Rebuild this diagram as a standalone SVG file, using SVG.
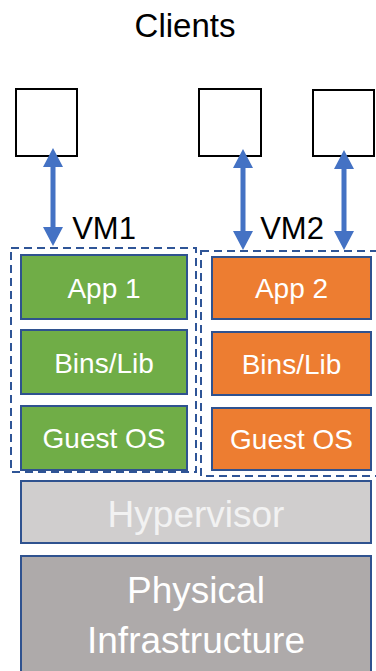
<svg xmlns="http://www.w3.org/2000/svg" width="376" height="671" viewBox="0 0 376 671">
<style>
text{font-family:"Liberation Sans",Arial,sans-serif;text-anchor:middle}
.client{fill:#fff;stroke:#000;stroke-width:2}
.vm{fill:none;stroke:#2F5597;stroke-width:2;stroke-dasharray:8 5}
.layer{stroke:#2F528F;stroke-width:2}
.green{fill:#70AD47}
.orange{fill:#ED7D31}
.lbl{fill:#fff;font-size:28px}
.big{fill:#fff;font-size:37px}
.arrow{fill:#4472C4}
.dark{fill:#000}
</style>
<text class="dark" x="185" y="37" font-size="33">Clients</text>
<g id="client1"><rect class="client" x="16" y="89" width="61" height="67"/></g>
<g id="client2"><rect class="client" x="199" y="89" width="62" height="67"/></g>
<g id="client3"><rect class="client" x="313" y="90" width="61" height="66"/></g>
<g id="connectors">
<path class="arrow" d="M53 148 L63 167 L55.5 167 L55.5 227 L63 227 L53 246 L43 227 L50.5 227 L50.5 167 L43 167 Z"/>
<path class="arrow" d="M243 149 L253 168 L245.5 168 L245.5 231 L253 231 L243 250 L233 231 L240.5 231 L240.5 168 L233 168 Z"/>
<path class="arrow" d="M344 150 L354 169 L346.5 169 L346.5 231 L354 231 L344 250 L334 231 L341.5 231 L341.5 169 L334 169 Z"/>
</g>
<g id="vm1">
<rect class="vm" x="11" y="248" width="185" height="224"/>
<text class="dark" x="104" y="239" font-size="31">VM1</text>
</g>
<g id="vm2">
<rect class="vm" x="201" y="251" width="180" height="225"/>
<text class="dark" x="292" y="239" font-size="31">VM2</text>
</g>
<g id="app1"><rect class="layer green" x="21" y="255" width="166" height="64"/><text class="lbl" x="104" y="298">App 1</text></g>
<g id="bins1"><rect class="layer green" x="21" y="330" width="166" height="64"/><text class="lbl" x="104" y="373">Bins/Lib</text></g>
<g id="guest1"><rect class="layer green" x="21" y="406" width="166" height="64"/><text class="lbl" x="104" y="448">Guest OS</text></g>
<g id="app2"><rect class="layer orange" x="212" y="257" width="159" height="62"/><text class="lbl" x="291.5" y="298">App 2</text></g>
<g id="bins2"><rect class="layer orange" x="212" y="332" width="159" height="63"/><text class="lbl" x="291.5" y="374">Bins/Lib</text></g>
<g id="guest2"><rect class="layer orange" x="212" y="408" width="159" height="62"/><text class="lbl" x="291.5" y="449">Guest OS</text></g>
<g id="hypervisor"><rect class="layer" fill="#D0CECE" x="21" y="481" width="350" height="62"/><text class="big" fill="#F2F2F2" x="196" y="527" style="fill:#F2F2F2">Hypervisor</text></g>
<g id="physical"><rect class="layer" fill="#AEAAAA" x="21" y="556" width="350" height="125"/><text class="big" x="196" y="603">Physical</text><text class="big" x="196" y="653">Infrastructure</text></g>
</svg>
